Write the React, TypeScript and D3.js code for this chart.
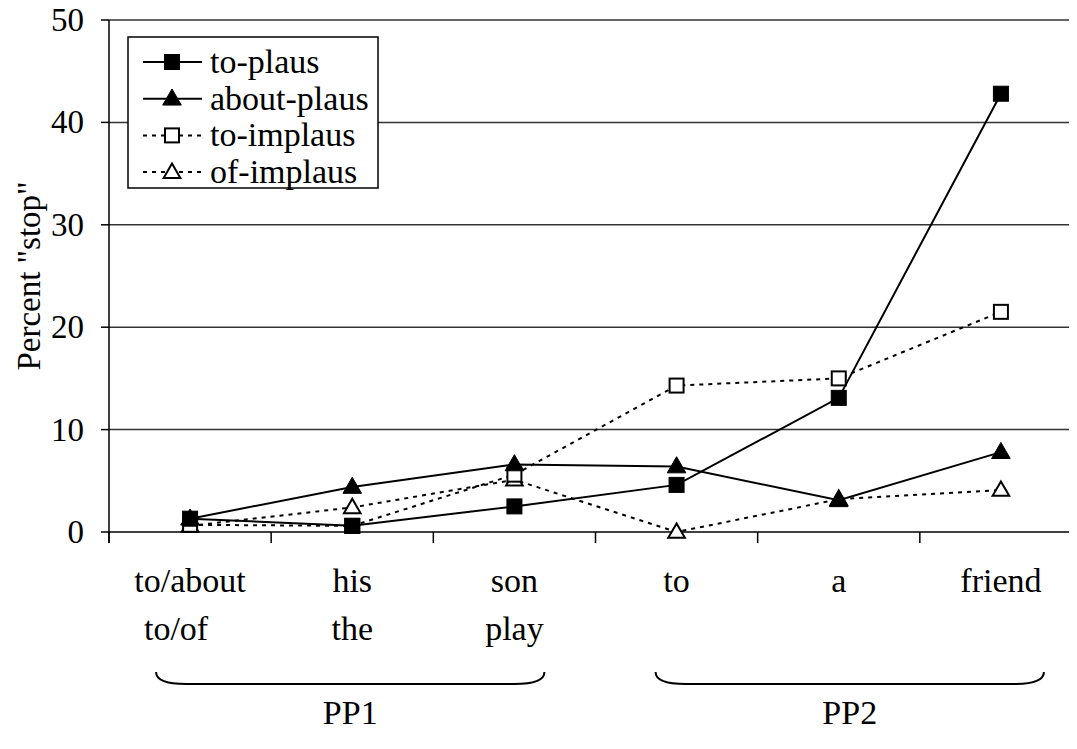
import React from 'react';
import * as d3 from 'd3';

// category labels (two lines for the PP1 words)
const categories = ['to/about', 'his', 'son', 'to', 'a', 'friend'];
const categories2 = ['to/of', 'the', 'play', '', '', ''];

// percent "stop" per series
const toPlaus = [1.3, 0.6, 2.5, 4.6, 13.1, 42.8];
const aboutPlaus = [1.3, 4.4, 6.6, 6.4, 3.1, 7.8];
const toImplaus = [0.7, 0.6, 5.6, 14.3, 15.0, 21.5];
const ofImplaus = [0.6, 2.4, 5.1, 0.0, 3.2, 4.1];

const yTicks = [0, 10, 20, 30, 40, 50];

const groups = [
  { label: 'PP1', first: 0, last: 2 },
  { label: 'PP2', first: 3, last: 5 },
];

const series = [
  { name: 'to-plaus', values: toPlaus, marker: 'square', filled: true, dashed: false },
  { name: 'about-plaus', values: aboutPlaus, marker: 'triangle', filled: true, dashed: false },
  { name: 'to-implaus', values: toImplaus, marker: 'square', filled: false, dashed: true },
  { name: 'of-implaus', values: ofImplaus, marker: 'triangle', filled: false, dashed: true },
];

const W = 1077;
const H = 749;
const ff = { fontFamily: "'Liberation Serif'" };

const Marker = ({ type, filled, x, y }: { type: string; filled: boolean; x: number; y: number }) => {
  const fill = filled ? '#000' : '#fff';
  if (type === 'square') {
    const s = filled ? 15 : 14;
    return <rect x={x - s / 2} y={y - s / 2} width={s} height={s} fill={fill} stroke="#000" strokeWidth={filled ? 1 : 2} />;
  }
  const sym = d3.symbol().type(d3.symbolTriangle).size(filled ? 150 : 120)();
  return <path d={sym || ''} transform={`translate(${x},${y + 1})`} fill={fill} stroke="#000" strokeWidth={filled ? 1 : 2} />;
};

const App = () => {
  const x = d3.scaleBand<number>().domain(d3.range(categories.length)).range([109, 1082]).padding(0);
  const y = d3.scaleLinear().domain([0, 50]).range([532, 20]);
  const cx = (i: number) => (x(i) as number) + x.bandwidth() / 2;

  const line = d3
    .line<number>()
    .x((_, i) => cx(i))
    .y(d => y(d));

  const bounds = d3.range(categories.length + 1).map(i => 109 + i * x.bandwidth());

  const braceOffsets = [
    [-34, 30],
    [-21, 43],
  ];

  return (
    <svg width={W} height={H} style={{ display: 'block', margin: '-8px 0 0 -8px' }}>
      {/* gridlines */}
      {yTicks.slice(1).map(t => (
        <line key={t} x1={109} x2={W} y1={y(t)} y2={y(t)} stroke="#333" strokeWidth={1.5} />
      ))}
      {/* y axis */}
      <line x1={109} x2={109} y1={y(50)} y2={543} stroke="#000" strokeWidth={1.5} />
      {yTicks.map(t => (
        <g key={t}>
          <line x1={101} x2={109} y1={y(t)} y2={y(t)} stroke="#000" strokeWidth={1.5} />
          <text x={84} y={y(t) + 11} textAnchor="end" fontSize={33} style={ff}>
            {t}
          </text>
        </g>
      ))}
      {/* x axis */}
      <line x1={109} x2={W} y1={y(0)} y2={y(0)} stroke="#000" strokeWidth={1.5} />
      {bounds.map(b => (
        <line key={b} x1={b} x2={b} y1={y(0)} y2={543} stroke="#000" strokeWidth={1.5} />
      ))}
      {categories.map((c, i) => (
        <g key={i}>
          <text x={cx(i)} y={592} textAnchor="middle" fontSize={34} style={ff}>
            {c}
          </text>
          {categories2[i] && (
            <text x={cx(i) - (i === 0 ? 14 : 0)} y={640} textAnchor="middle" fontSize={34} style={ff}>
              {categories2[i]}
            </text>
          )}
        </g>
      ))}
      {/* y label */}
      <text transform={`translate(40,${(y(0) + y(50)) / 2}) rotate(-90)`} textAnchor="middle" fontSize={33} style={ff}>
        Percent "stop"
      </text>

      {/* series lines */}
      {series.map(s => (
        <path
          key={s.name}
          d={line(s.values) || ''}
          fill="none"
          stroke="#000"
          strokeWidth={2}
          strokeDasharray={s.dashed ? '4,5' : undefined}
        />
      ))}
      {/* markers, open ones first */}
      {[...series].reverse().map(s =>
        s.values.map((v, i) => <Marker key={s.name + i} type={s.marker} filled={s.filled} x={cx(i)} y={y(v)} />)
      )}

      {/* braces + group labels */}
      {groups.map((g, gi) => {
        const x0 = cx(g.first) + braceOffsets[gi][0];
        const x1 = cx(g.last) + braceOffsets[gi][1];
        const top = 672;
        const bot = 684;
        const d = `M${x0},${top} Q${x0},${bot} ${x0 + 30},${bot} L${x1 - 30},${bot} Q${x1},${bot} ${x1},${top}`;
        return (
          <g key={g.label}>
            <path d={d} fill="none" stroke="#000" strokeWidth={2} />
            <text x={(x0 + x1) / 2} y={724} textAnchor="middle" fontSize={34} style={ff}>
              {g.label}
            </text>
          </g>
        );
      })}

      {/* legend */}
      <rect x={128} y={37} width={250} height={151} fill="#fff" stroke="#000" strokeWidth={1.5} />
      {series.map((s, i) => {
        const ly = 62 + i * 36.7;
        return (
          <g key={s.name}>
            <line x1={143} x2={202} y1={ly} y2={ly} stroke="#000" strokeWidth={2} strokeDasharray={s.dashed ? '4,5' : undefined} />
            <Marker type={s.marker} filled={s.filled} x={172} y={ly} />
            <text x={210} y={ly + 11} fontSize={34} style={ff}>
              {s.name}
            </text>
          </g>
        );
      })}
    </svg>
  );
};

export default App;
